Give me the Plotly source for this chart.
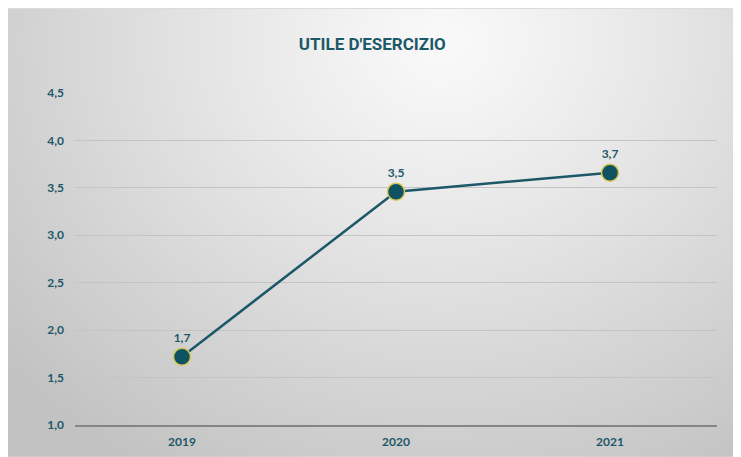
import base64, struct, zlib, math
import plotly.graph_objects as go

# ---- data ----
years = ["2019", "2020", "2021"]
utile = [1.72, 3.46, 3.66]
y_ticks = [1.0, 1.5, 2.0, 2.5, 3.0, 3.5, 4.0, 4.5]
y_tick_labels = ["1,0", "1,5", "2,0", "2,5", "3,0", "3,5", "4,0", "4,5"]
title_text = "UTILE D'ESERCIZIO"

TEAL = "#1d5868"

# ---- radial gradient background as small PNG ----
def gradient_png(w, h):
    rows = []
    cx, cy = 0.59 * w, 0.07 * h
    maxd = math.hypot(cx, h - cy)
    for j in range(h):
        row = bytearray([0])
        for i in range(w):
            d = math.hypot((i - cx) * 1.0, (j - cy) * 1.15) / maxd
            v = int(max(194, min(250, 250 - 58 * d ** 1.1)))
            row.append(v)
        rows.append(bytes(row))
    raw = b"".join(rows)
    def chunk(t, data):
        c = struct.pack(">I", len(data)) + t + data
        return c + struct.pack(">I", zlib.crc32(t + data) & 0xffffffff)
    png = b"\x89PNG\r\n\x1a\n"
    png += chunk(b"IHDR", struct.pack(">IIBBBBB", w, h, 8, 0, 0, 0, 0))
    png += chunk(b"IDAT", zlib.compress(raw, 9))
    png += chunk(b"IEND", b"")
    return "data:image/png;base64," + base64.b64encode(png).decode()

W, H = 733, 453
ml, mr, mt, mb = 67, 24, 85, 32
pw, ph = W - ml - mr, H - mt - mb

x0, x1 = -ml / pw, 1 + mr / pw
y0, y1 = -mb / ph, 1 + mt / ph

bg = gradient_png(183, 112)

fig = go.Figure()
fig.add_trace(go.Scatter(
    x=years, y=utile, mode="lines+markers+text",
    line=dict(color=TEAL, width=2.5),
    marker=dict(size=17, color="#0f5264", line=dict(color="#d8c84a", width=1.5)),
    text=[f"{v:.1f}".replace(".", ",") for v in utile],
    textposition="top center",
    textfont=dict(family="Lato, Century Gothic, sans-serif", size=12, color=TEAL, weight="bold"),
    cliponaxis=False,
    hoverinfo="skip",
))

fig.update_layout(
    width=W, height=H,
    margin=dict(l=ml, r=mr, t=mt, b=mb),
    paper_bgcolor="#dcdcdc",
    plot_bgcolor="rgba(0,0,0,0)",
    showlegend=False,
    images=[dict(source=bg, xref="paper", yref="paper", x=x0, y=y1,
                 sizex=x1 - x0, sizey=y1 - y0, sizing="stretch",
                 xanchor="left", yanchor="top", layer="below")],
    title=dict(text=title_text, x=0.497, xref="container", xanchor="center",
               y=1 - 36 / H, yref="container", yanchor="middle",
               font=dict(family="Roboto, sans-serif", size=17, color=TEAL, weight="bold")),
    xaxis=dict(
        type="category", range=[-0.5, 2.5],
        showgrid=False, showline=True, linecolor="#858585", linewidth=2,
        zeroline=False, ticks="", ticklabelstandoff=5,
        tickfont=dict(family="Lato, Century Gothic, sans-serif", size=12, color=TEAL, weight="bold"),
        fixedrange=True,
    ),
    yaxis=dict(
        range=[1.0, 4.5], tickvals=y_ticks, ticktext=y_tick_labels,
        showgrid=True, gridcolor="#c4c4c4", gridwidth=1,
        zeroline=False, showline=False, ticks="", ticklabelstandoff=10,
        tickfont=dict(family="Lato, Century Gothic, sans-serif", size=12, color=TEAL, weight="bold"),
        fixedrange=True,
    ),
)

fig.write_html("out.html")
